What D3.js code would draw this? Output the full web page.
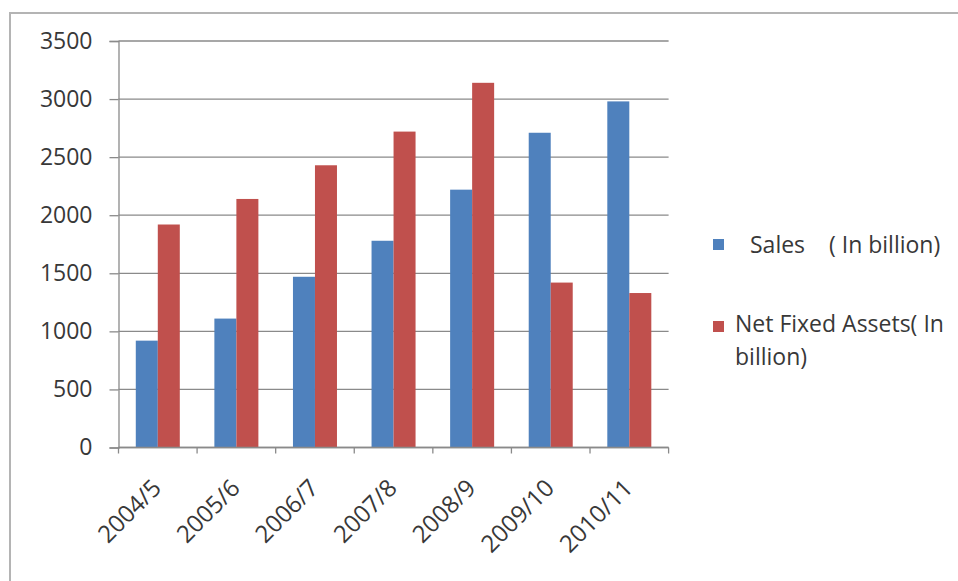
<!DOCTYPE html>
<html>
<head>
<meta charset="utf-8">
<script src="https://cdn.jsdelivr.net/npm/d3@7"></script>
<style>
  html, body { margin: 0; padding: 0; background: #ffffff; }
  svg { display: block; }
  text { font-family: "Open Sans", "DejaVu Sans", sans-serif; fill: #383838; }
</style>
</head>
<body>
<svg id="chart" width="958" height="581"></svg>
<script>
// Fiscal years on the category axis
const categories = ["2004/5", "2005/6", "2006/7", "2007/8", "2008/9", "2009/10", "2010/11"];
// Series values (in billion)
const sales = [920, 1110, 1470, 1780, 2220, 2710, 2980];
const netFixedAssets = [1920, 2140, 2430, 2720, 3140, 1420, 1330];
// Value-axis tick labels
const yTicks = [0, 500, 1000, 1500, 2000, 2500, 3000, 3500];
// Series names shown in the legend
const seriesNames = ["Sales    ( In billion)", "Net Fixed Assets( In billion)"];
const seriesColors = ["#4F81BD", "#C0504D"];

const svg = d3.select("#chart");

// Chart frame (top and left edges)
svg.append("path")
  .attr("d", "M10,581 V13 H958")
  .attr("fill", "none")
  .attr("stroke", "#b4b4b4")
  .attr("stroke-width", 2);

const plot = { left: 118.5, right: 668.6, top: 41, bottom: 447.5 };

const x0 = d3.scaleBand()
  .domain(categories)
  .range([plot.left, plot.right])
  .paddingInner(0.44)
  .paddingOuter(0.22);

const x1 = d3.scaleBand()
  .domain([0, 1])
  .range([0, x0.bandwidth()]);

const y = d3.scaleLinear()
  .domain([0, 3500])
  .range([plot.bottom, plot.top]);

// Horizontal gridlines
svg.append("g")
  .selectAll("line")
  .data(yTicks)
  .join("line")
  .attr("x1", plot.left)
  .attr("x2", plot.right)
  .attr("y1", d => y(d))
  .attr("y2", d => y(d))
  .attr("stroke", "#8a8a8a")
  .attr("stroke-width", 1.3);

// Value axis
const yAxis = svg.append("g")
  .attr("transform", `translate(${plot.left},0)`)
  .call(d3.axisLeft(y).tickValues(yTicks).tickSize(9).tickPadding(17).tickFormat(d3.format("d")));
yAxis.select(".domain").attr("stroke", "#8a8a8a").attr("stroke-width", 1.3);
yAxis.selectAll(".tick line").attr("stroke", "#8a8a8a").attr("stroke-width", 1.3);
yAxis.selectAll(".tick text")
  .attr("font-size", 23)
  .attr("font-family", "\"Open Sans\", sans-serif")
  .attr("fill", "#383838");

// Bars
const series = [sales, netFixedAssets];
series.forEach((vals, si) => {
  svg.append("g")
    .selectAll("rect")
    .data(vals)
    .join("rect")
    .attr("x", (d, i) => x0(categories[i]) + x1(si))
    .attr("width", x1.bandwidth())
    .attr("y", d => y(d))
    .attr("height", d => y(0) - y(d))
    .attr("fill", seriesColors[si]);
});

// Category axis line and boundary ticks
svg.append("line")
  .attr("x1", plot.left).attr("x2", plot.right)
  .attr("y1", plot.bottom).attr("y2", plot.bottom)
  .attr("stroke", "#8a8a8a").attr("stroke-width", 1.3);

const step = x0.step();
const boundaries = d3.range(categories.length + 1).map(i => x0(categories[0]) - x0.paddingOuter() * step + i * step);
svg.append("g")
  .selectAll("line")
  .data(boundaries)
  .join("line")
  .attr("x1", d => d).attr("x2", d => d)
  .attr("y1", plot.bottom).attr("y2", plot.bottom + 6)
  .attr("stroke", "#8a8a8a").attr("stroke-width", 1.3);

// Rotated category labels
svg.append("g")
  .selectAll("text")
  .data(categories)
  .join("text")
  .attr("transform", d => `translate(${x0(d) + x0.bandwidth() / 2 + 5},${plot.bottom + 42}) rotate(-45)`)
  .attr("text-anchor", "end")
  .attr("font-size", 24)
  .text(d => d);

// Legend
const legend = svg.append("g");
legend.append("rect")
  .attr("x", 713).attr("y", 239).attr("width", 11).attr("height", 11)
  .attr("fill", seriesColors[0]);
legend.append("text")
  .attr("x", 750).attr("y", 253)
  .attr("font-size", 23)
  .style("white-space", "pre")
  .text(seriesNames[0]);

legend.append("rect")
  .attr("x", 713).attr("y", 321).attr("width", 11).attr("height", 11)
  .attr("fill", seriesColors[1]);
const t2 = legend.append("text")
  .attr("font-size", 23);
t2.append("tspan").attr("x", 735).attr("y", 332).text("Net Fixed Assets( In");
t2.append("tspan").attr("x", 735).attr("y", 365).text("billion)");
</script>
</body>
</html>
